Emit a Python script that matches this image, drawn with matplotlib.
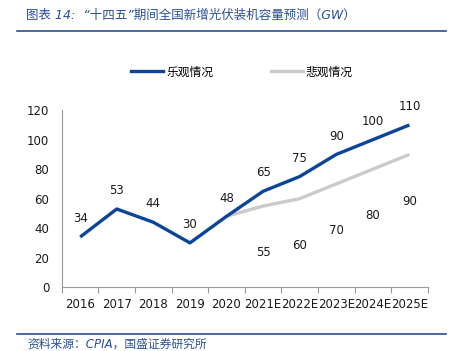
import numpy as np
import matplotlib.pyplot as plt
from matplotlib.lines import Line2D

plt.rcParams['font.family'] = ['DejaVu Sans', 'Noto Sans CJK SC']

years = ['2016', '2017', '2018', '2019', '2020', '2021E', '2022E', '2023E', '2024E', '2025E']
optimistic = [34, 53, 44, 30, 48, 65, 75, 90, 100, 110]
pess_years = ['2020', '2021E', '2022E', '2023E', '2024E', '2025E']
pessimistic = [48, 55, 60, 70, 80, 90]

blue = '#0B4599'
grey = '#CBCBCB'
title_blue = '#2A4F96'
txt = '#1a1a1a'

fig = plt.figure(figsize=(4.55, 3.51), dpi=100)
ax = fig.add_axes([0.136, 0.182, 0.804, 0.504])

x = np.arange(len(years))
xp = np.arange(len(years) - len(pess_years), len(years))

ax.plot(xp, pessimistic, color=grey, lw=2.4, solid_capstyle='butt')
ax.plot(x, optimistic, color=blue, lw=2.4, solid_capstyle='butt')

for i, v in zip(x, optimistic):
    ax.annotate(str(v), (i, v), xytext=(0, 8.5), textcoords='offset points',
                ha='center', va='bottom', fontsize=8.5, color=txt)
for i, v in zip(xp[1:], pessimistic[1:]):
    ax.annotate(str(v), (i, v), xytext=(0, -29), textcoords='offset points',
                ha='center', va='top', fontsize=8.5, color=txt)

ax.set_xlim(-0.5, len(years) - 0.5)
ax.set_ylim(0, 120)
ax.set_yticks(range(0, 121, 20))
ax.set_xticks(x)
ax.set_xticklabels(years)
ax.set_xticks(np.arange(-0.5, len(years)), minor=True)
ax.tick_params(axis='x', which='major', length=0, labelsize=8.5, colors=txt, pad=8)
ax.tick_params(axis='x', which='minor', length=4, color='#999999', width=0.8)
ax.tick_params(axis='y', length=0, labelsize=8.5, colors=txt, pad=9)
for s in ['top', 'right']:
    ax.spines[s].set_visible(False)
for s in ['left', 'bottom']:
    ax.spines[s].set_color('#999999')
    ax.spines[s].set_linewidth(0.8)

handles = [Line2D([], [], color=blue, lw=2.4), Line2D([], [], color=grey, lw=2.4)]
fig.legend(handles, ['乐观情况', '悲观情况'], loc='center', bbox_to_anchor=(0.532, 0.795),
           ncol=2, frameon=False, fontsize=8.5, handlelength=2.7, handletextpad=0.25,
           columnspacing=4.9)

fig.text(0.057, 0.955, '图表 14:  “十四五”期间全国新增光伏装机容量预测（GW）',
         fontsize=9, color=title_blue, style='italic', va='center')
fig.add_artist(Line2D([0.037, 0.98], [0.912, 0.912], color=title_blue, lw=1.2))
fig.add_artist(Line2D([0.037, 0.98], [0.048, 0.048], color=title_blue, lw=1.2))
fig.text(0.06, 0.02, '资料来源：CPIA，国盛证券研究所', fontsize=8.5, color=title_blue,
         style='italic', va='center')

fig.savefig('out.png', dpi=100)
